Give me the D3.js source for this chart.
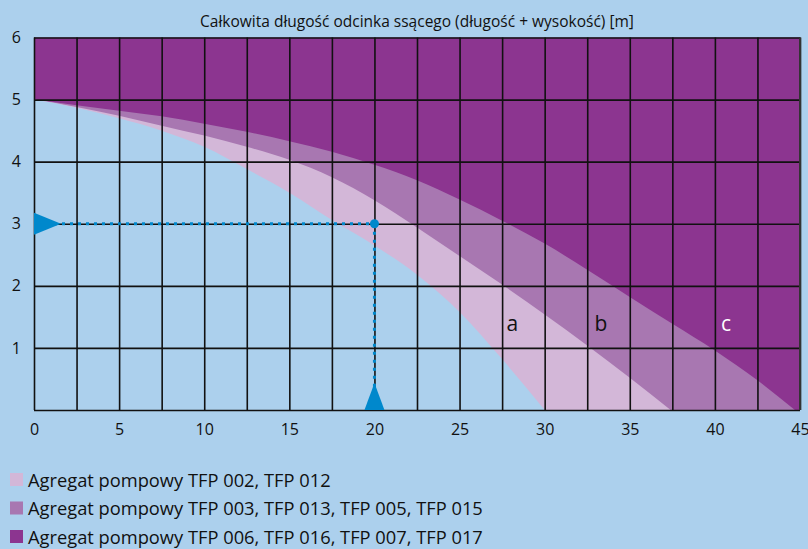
<!DOCTYPE html>
<html><head><meta charset="utf-8">
<script src="https://cdn.jsdelivr.net/npm/d3@7"></script>
<style>
html,body{margin:0;padding:0;background:#acd0ed;}
svg{display:block;}
text{font-family:"Open Sans",sans-serif;fill:#111;}
</style></head>
<body>
<svg id="c" width="808" height="549"></svg>
<script>
const title = "Całkowita długość odcinka ssącego (długość + wysokość) [m]";
const xTickValues = [0,5,10,15,20,25,30,35,40,45];
const yTickValues = [1,2,3,4,5,6];
const gridXValues = [0,2.5,5,7.5,10,12.5,15,17.5,20,22.5,25,27.5,30,32.5,35,37.5,40,42.5,45];
const gridYValues = [0,1,2,3,4,5,6];

// boundary curves (length [m], height [m])
const curveA_L = [0,2.5,5,7.5,10,12.5,15,17.5,20,22.5,25,27.5,30];
const curveA_H = [5,4.87,4.7,4.5,4.24,3.88,3.5,3.06,2.65,2.18,1.58,0.82,0];
const curveB_L = [0,2.5,5,7.5,10,12.5,15,17.5,20,22.5,25,27.5,30,32.5,35,37.4];
const curveB_H = [5,4.88,4.74,4.58,4.42,4.24,4.03,3.75,3.38,2.94,2.48,2.02,1.54,1.04,0.52,0];
const curveC_L = [0,2.5,5,7.5,10,12.5,15,17.5,20,22.5,25,27.5,30,32.5,35,37.5,40,42.5,44.7];
const curveC_H = [5,4.91,4.82,4.73,4.61,4.48,4.33,4.16,3.95,3.7,3.39,3.05,2.68,2.26,1.82,1.39,0.96,0.48,0];

const legendLabels = ["Agregat pompowy TFP 002, TFP 012","Agregat pompowy TFP 003, TFP 013, TFP 005, TFP 015","Agregat pompowy TFP 006, TFP 016, TFP 007, TFP 017"];
const legendColors = ["#d3b7d8","#a877b1","#8c3590"];
const bandLabels = [{t:"a",L:28.1,H:1.27,c:"#111"},{t:"b",L:33.3,H:1.27,c:"#111"},{t:"c",L:40.65,H:1.27,c:"#fff"}];
const readL = 20, readH = 3;

const svg = d3.select("#c");
const x = d3.scaleLinear().domain([0,45]).range([34,800]);
const y = d3.scaleLinear().domain([0,6]).range([410,37.5]);

// background of plot (dark band)
svg.append("rect").attr("x",x(0)).attr("y",y(6)).attr("width",x(45)-x(0)).attr("height",y(0)-y(6)).attr("fill","#8c3590");

const area = d3.area().x(d=>x(d[0])).y0(y(0)).y1(d=>y(d[1])).curve(d3.curveMonotoneX);
const zip = (a,b)=>a.map((v,i)=>[v,b[i]]);
svg.append("path").datum(zip(curveC_L,curveC_H)).attr("d",area).attr("fill","#a877b1");
svg.append("path").datum(zip(curveB_L,curveB_H)).attr("d",area).attr("fill","#d3b7d8");
svg.append("path").datum(zip(curveA_L,curveA_H)).attr("d",area).attr("fill","#acd0ed");

// grid via axes
const gx = svg.append("g").attr("transform",`translate(0,${y(0)})`)
  .call(d3.axisBottom(x).tickValues(gridXValues).tickSize(-(y(0)-y(6))).tickFormat(""));
const gy = svg.append("g").attr("transform",`translate(${x(0)},0)`)
  .call(d3.axisLeft(y).tickValues(gridYValues).tickSize(-(x(45)-x(0))).tickFormat(""));
[gx,gy].forEach(g=>{g.select(".domain").remove();g.selectAll("line").attr("stroke","#111").attr("stroke-width",1.6);});

// tick labels
const xl = svg.append("g").attr("transform",`translate(0,${y(0)})`)
  .call(d3.axisBottom(x).tickValues(xTickValues).tickSize(0).tickPadding(14).tickFormat(d3.format("d")));
xl.select(".domain").remove();
xl.selectAll("text").attr("font-size",16).attr("font-family","'Liberation Sans Narrow','Open Sans',sans-serif").attr("fill","#111");
const yl = svg.append("g").attr("transform",`translate(${x(0)},0)`)
  .call(d3.axisLeft(y).tickValues(yTickValues).tickSize(0).tickPadding(13).tickFormat(d3.format("d")));
yl.select(".domain").remove();
yl.selectAll("text").attr("font-size",16).attr("font-family","'Liberation Sans Narrow','Open Sans',sans-serif").attr("fill","#111");

// title
svg.append("text").attr("x",417).attr("y",27).attr("text-anchor","middle").attr("font-size",15.5).text(title);

// band labels
svg.selectAll(".bl").data(bandLabels).join("text").attr("class","bl")
  .attr("x",d=>x(d.L)).attr("y",d=>y(d.H)).attr("text-anchor","middle").attr("font-size",21)
  .style("fill",d=>d.c).text(d=>d.t);

// reading indicator
const blue = "#0088cc";
const dash = "3 5";
svg.append("line").attr("x1",x(0)+20).attr("y1",y(readH)).attr("x2",x(readL)).attr("y2",y(readH))
  .attr("stroke",blue).attr("stroke-width",3).attr("stroke-dasharray",dash);
svg.append("line").attr("x1",x(readL)).attr("y1",y(readH)).attr("x2",x(readL)).attr("y2",y(0)-22)
  .attr("stroke",blue).attr("stroke-width",3).attr("stroke-dasharray",dash);
svg.append("circle").attr("cx",x(readL)).attr("cy",y(readH)).attr("r",4.5).attr("fill",blue);
svg.append("path").attr("d",`M${x(0)},${y(readH)-11}L${x(0)+27},${y(readH)}L${x(0)},${y(readH)+11}Z`).attr("fill",blue);
svg.append("path").attr("d",`M${x(readL)-10},${y(0)}L${x(readL)},${y(0)-27}L${x(readL)+10},${y(0)}Z`).attr("fill",blue);

// plot right border
svg.append("line").attr("x1",x(45)).attr("x2",x(45)).attr("y1",y(6)).attr("y2",y(0)).attr("stroke","#333").attr("stroke-width",2);

// legend
const lg = svg.selectAll(".lg").data(legendLabels).join("g").attr("class","lg")
  .attr("transform",(d,i)=>`translate(10,${473+i*28.5})`);
lg.append("rect").attr("width",13).attr("height",13).attr("fill",(d,i)=>legendColors[i]);
lg.append("text").attr("x",18).attr("y",13.5).attr("font-size",18.3).text(d=>d);
</script>
</body></html>
